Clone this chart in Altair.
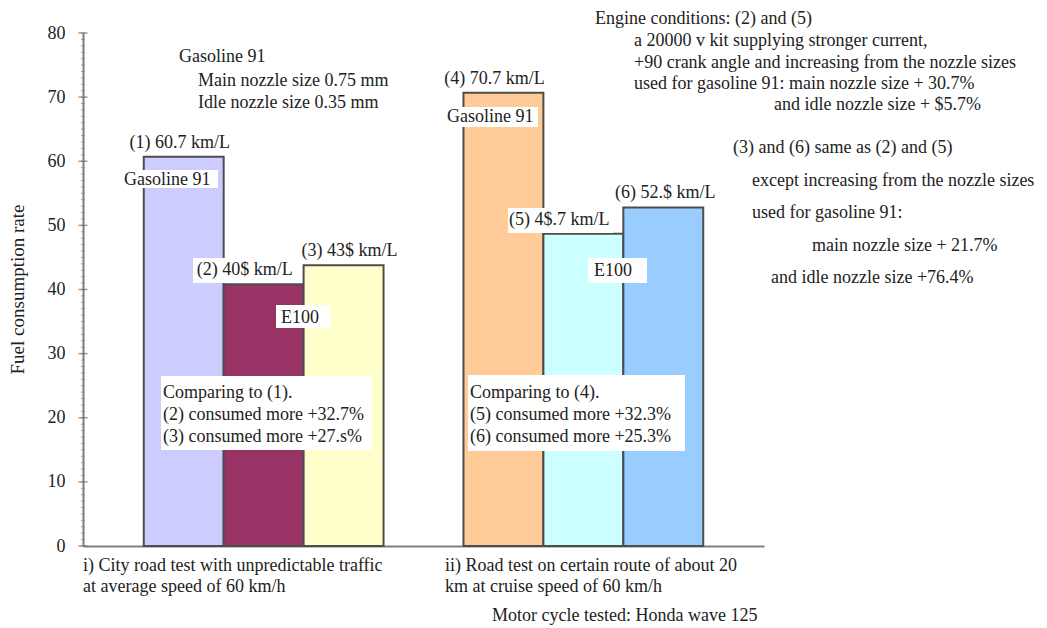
import altair as alt
import pandas as pd

SERIF = "Liberation Serif"
INK = "#222222"

# ---------------- data ----------------
bar_ids = ["1", "2", "3", "4", "5", "6"]
slots = ["1", "2", "3", "gap", "4", "5", "6"]
values = [60.7, 40.8, 43.8, 70.7, 48.7, 52.8]
bar_labels = ["(1) 60.7 km/L", "(2) 40$ km/L", "(3) 43$ km/L",
              "(4) 70.7 km/L", "(5) 4$.7 km/L", "(6) 52.$ km/L"]
bar_colors = ["#CCCCFF", "#993366", "#FFFFCC", "#FFCC99", "#CCFFFF", "#99CCFF"]
y_major = [0, 10, 20, 30, 40, 50, 60, 70, 80]
y_minor = list(range(0, 81))
y_title = "Fuel consumption rate"

top_note = ["Gasoline 91", "Main nozzle size 0.75 mm", "Idle nozzle size 0.35 mm"]
fuel_names = ["Gasoline 91", "E100"]
compare_left = ["Comparing to (1).", "(2) consumed more +32.7%", "(3) consumed more +27.s%"]
compare_right = ["Comparing to (4).", "(5) consumed more +32.3%", "(6) consumed more +25.3%"]
engine_note = ["Engine conditions: (2) and (5)",
               "a 20000 v kit supplying stronger current,",
               "+90 crank angle and increasing from the nozzle sizes",
               "used for gasoline 91: main nozzle size + 30.7%",
               "and idle nozzle size + $5.7%"]
same_note = ["(3) and (6) same as (2) and (5)",
             "except increasing from the nozzle sizes",
             "used for gasoline 91:",
             "main nozzle size + 21.7%",
             "and idle nozzle size +76.4%"]
group_left = ["i) City road test with unpredictable traffic", "at average speed of 60 km/h"]
group_right = ["ii) Road test on certain route of about 20", "km at cruise speed of 60 km/h"]
footer = "Motor cycle tested: Honda wave 125"

df = pd.DataFrame({"id": bar_ids, "value": values, "label": bar_labels})

# ---------------- scales / axes ----------------
xscale = alt.Scale(domain=slots, paddingInner=0, paddingOuter=0.76)
yscale = alt.Scale(domain=[0, 80], nice=False)
yaxis = alt.Axis(values=y_major, title=y_title, ticks=False,
                 labelPadding=18, domainColor="#808080", domainWidth=2,
                 grid=False, titleX=-56, titleY=256)
xaxis = alt.Axis(labels=False, ticks=False, title=None,
                 domainColor="#808080", domainWidth=2)


def yenc():
    return alt.Y("value:Q", scale=yscale, axis=yaxis, title=y_title)


bars = alt.Chart(df).mark_bar(stroke="#4d4d4d", strokeWidth=2).encode(
    x=alt.X("id:N", scale=xscale, axis=xaxis),
    y=yenc(),
    color=alt.Color("id:N", scale=alt.Scale(domain=bar_ids, range=bar_colors), legend=None),
)

minor = alt.Chart(pd.DataFrame({"value": y_minor})).mark_tick(
    color="#808080", size=4, thickness=1).encode(y=yenc(), x=alt.value(0))
major = alt.Chart(pd.DataFrame({"value": y_major})).mark_tick(
    color="#707070", size=9, thickness=1.5).encode(y=yenc(), x=alt.value(0))


def box(x1, x2, y1, y2):
    return alt.Chart(pd.DataFrame({"a": [0]})).mark_rect(color="white").encode(
        x=alt.value(x1), x2=alt.value(x2), y=alt.value(y1), y2=alt.value(y2))


def txt(s, x, y, size=18, align="left"):
    return alt.Chart(pd.DataFrame({"t": [s]})).mark_text(
        align=align, baseline="middle", font=SERIF, fontSize=size, color=INK).encode(
        text="t:N", x=alt.value(x), y=alt.value(y))


layers = [bars]

# white backgrounds behind annotations
layers += [
    box(39, 135, 137, 155),     # Gasoline 91 on bar 1
    box(110, 212, 225, 250),    # label (2)
    box(193, 247, 272, 295),    # E100 left
    box(78, 289, 343, 417),     # comparing left
    box(362, 455, 74, 94),      # Gasoline 91 on bar 4
    box(425, 530, 175, 200),    # label (5)
    box(505, 564, 225, 250),    # E100 right
    box(385, 602, 342, 418),    # comparing right
]

# bar value labels
label_offsets = {"1": -4, "2": -19, "3": 6, "4": -9, "5": -24, "6": 2}
for i, bid in enumerate(bar_ids):
    layers.append(
        alt.Chart(df.iloc[[i]]).mark_text(
            font=SERIF, fontSize=18, color=INK, baseline="middle",
            dx=label_offsets[bid], dy=-14).encode(
            x=alt.X("id:N", scale=xscale, axis=xaxis),
            y=yenc(),
            text="label:N"))

# annotations inside the plot
layers += [
    txt(top_note[0], 96, 24), txt(top_note[1], 115, 48), txt(top_note[2], 115, 70),
    txt(fuel_names[0], 41, 147), txt(fuel_names[0], 364, 84),
    txt(fuel_names[1], 198, 285), txt(fuel_names[1], 511, 238),
]
for j, line in enumerate(compare_left):
    layers.append(txt(line, 80, 360 + 22 * j))
for j, line in enumerate(compare_right):
    layers.append(txt(line, 387, 360 + 22 * j))

# notes on the right
engine_pos = [(512, -14), (551, 8), (551, 30), (551, 51), (691, 72)]
for line, (px, py) in zip(engine_note, engine_pos):
    layers.append(txt(line, px, py))
same_pos = [(650, 115), (669, 148), (669, 180), (729, 213), (688, 245)]
for line, (px, py) in zip(same_note, same_pos):
    layers.append(txt(line, px, py))

# group captions under the axis
layers += [
    txt(group_left[0], 0, 533), txt(group_left[1], 0, 554),
    txt(group_right[0], 362, 533), txt(group_right[1], 362, 554),
    txt(footer, 409, 583),
]

layers += [minor, major]

chart = alt.layer(*layers).properties(
    width=681, height=513,
    padding={"left": 75, "top": 25, "right": 275, "bottom": 90},
    autosize="none",
    background="white",
).configure_view(stroke=None).configure_axis(
    labelFont=SERIF, labelFontSize=18, labelColor=INK,
    titleFont=SERIF, titleFontSize=19, titleFontWeight="normal", titleColor=INK,
)

chart.save("out.html", embed_options={"renderer": "svg", "actions": False})
